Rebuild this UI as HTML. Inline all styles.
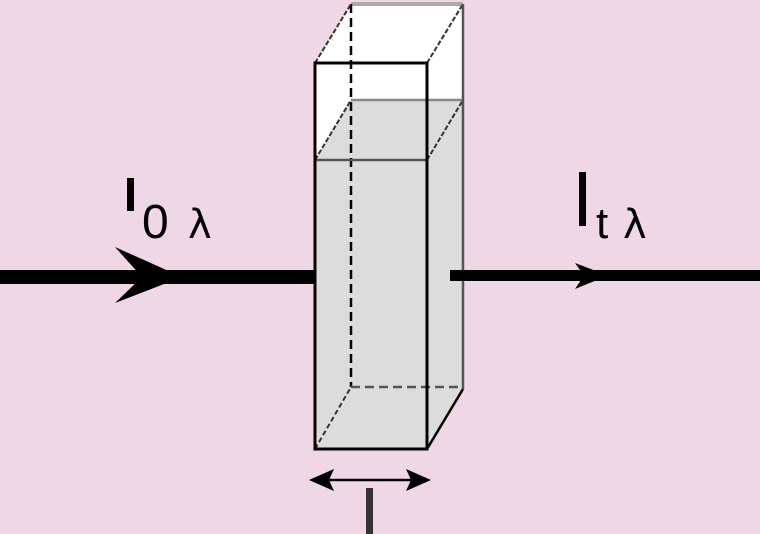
<!DOCTYPE html>
<html><head><style>html,body{margin:0;padding:0;background:#efd7e5;}svg{display:block}</style></head>
<body>
<svg width="760" height="534" xmlns="http://www.w3.org/2000/svg">
<rect width="760" height="534" fill="#efd7e5"/>
<!-- cuvette fills -->
<polygon points="315,63 351,4 463,4 463,100 427,160 315,160" fill="#ffffff"/>
<polygon points="315,160 351,100 463,100 463,389 427,449 315,449" fill="#dcdcdc"/>
<line x1="351" y1="4" x2="463" y2="4" stroke="#aaa" stroke-width="4"/>
<!-- hidden edges -->
<line x1="351" y1="4" x2="351" y2="387" stroke="#000" stroke-width="2.5" stroke-dasharray="9,5"/>
<line x1="351" y1="387" x2="463" y2="387" stroke="#555" stroke-width="2.5" stroke-dasharray="9,5"/>
<line x1="315" y1="449" x2="351" y2="387" stroke="#333" stroke-width="2" stroke-dasharray="5,3"/>
<!-- diagonals -->
<line x1="315" y1="63" x2="351" y2="4" stroke="#333" stroke-width="2" stroke-dasharray="5,2"/>
<line x1="427" y1="63" x2="463" y2="4" stroke="#333" stroke-width="2" stroke-dasharray="5,2"/>
<line x1="315" y1="160" x2="351" y2="100" stroke="#333" stroke-width="2" stroke-dasharray="5,2"/>
<line x1="427" y1="160" x2="463" y2="100" stroke="#333" stroke-width="2" stroke-dasharray="5,2"/>
<line x1="427" y1="449" x2="463" y2="389" stroke="#000" stroke-width="2.5"/>
<line x1="351" y1="100" x2="463" y2="100" stroke="#888" stroke-width="2.5"/>
<line x1="315" y1="160" x2="427" y2="160" stroke="#555" stroke-width="2.5"/>
<line x1="463" y1="4" x2="463" y2="389" stroke="#555" stroke-width="2.5"/>
<!-- front face -->
<rect x="315" y="63" width="112" height="386" fill="none" stroke="#000" stroke-width="3"/>
<!-- beams -->
<rect x="0" y="270" width="315" height="14" fill="#000"/>
<polygon points="115,247 182,277 115,303 142,277" fill="#000"/>
<rect x="450" y="270" width="310" height="11" fill="#000"/>
<polygon points="575,263 608,275.5 575,289 584,275.5" fill="#000"/>
<!-- labels -->
<rect x="127" y="178" width="7" height="33" fill="#000"/>
<text x="142" y="238" font-family="Liberation Sans, sans-serif" font-size="48" fill="#000">0</text>
<text x="188" y="238" font-family="DejaVu Sans, sans-serif" font-size="40" fill="#000">λ</text>
<rect x="579" y="172" width="7" height="54" fill="#000"/>
<text x="596" y="238" font-family="Liberation Sans, sans-serif" font-size="44" fill="#000">t</text>
<text x="623" y="238" font-family="DejaVu Sans, sans-serif" font-size="40" fill="#000">λ</text>
<!-- length arrow -->
<line x1="320" y1="480" x2="420" y2="480" stroke="#000" stroke-width="2.5"/>
<polygon points="309,480 334,469 329,480 334,491" fill="#000"/>
<polygon points="431,480 406,469 411,480 406,491" fill="#000"/>
<rect x="366" y="488" width="7" height="46" fill="#333"/>
</svg>
</body></html>
